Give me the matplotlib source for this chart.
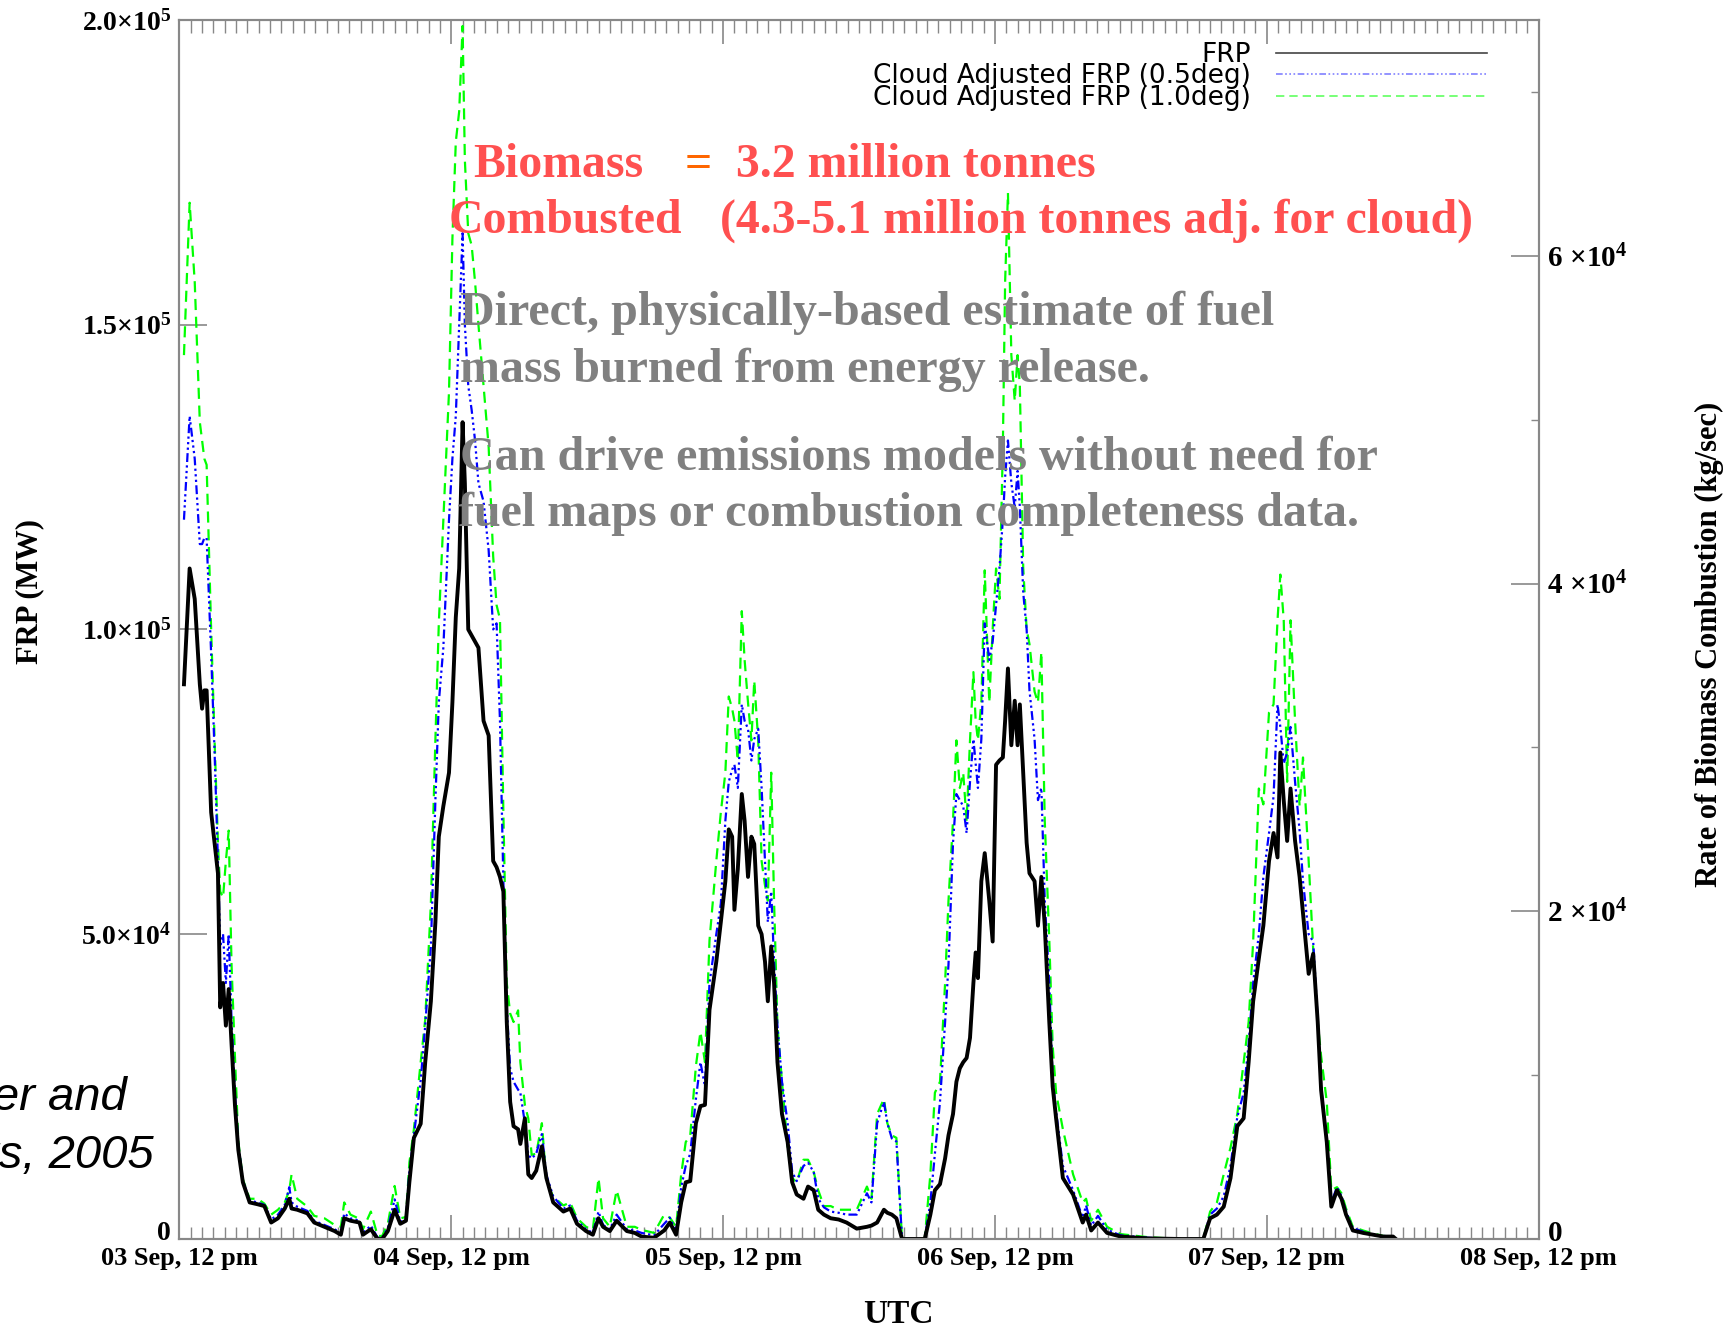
import numpy as np
import matplotlib.pyplot as plt
from matplotlib.ticker import FixedLocator, FixedFormatter, MultipleLocator
from matplotlib.transforms import ScaledTranslation

plt.rcParams['font.family'] = ['Liberation Serif', 'DejaVu Serif']
plt.rcParams['mathtext.fontset'] = 'custom'
plt.rcParams['mathtext.rm'] = 'Liberation Serif:bold'
plt.rcParams['mathtext.bf'] = 'Liberation Serif:bold'
plt.rcParams['mathtext.it'] = 'Liberation Serif:bold'

# hours after 03 Sep 12:00 UTC
hours = [0.4, 0.9, 1.35, 1.8, 2.0, 2.2, 2.4, 2.8, 3.1, 3.4, 3.6, 3.85, 4.1, 4.35, 4.6, 4.9, 5.2, 5.6, 6.2,
         6.9, 7.5, 8.1, 8.7, 9.3, 9.7, 9.9, 10.4, 11.3, 11.9, 12.8, 13.7, 14.25, 14.55, 15.1, 15.9, 16.2,
         16.9, 17.5, 17.9, 18.4, 19.0, 19.5, 20.0,
         20.3, 20.7, 21.3, 21.7, 22.2, 22.6, 22.9, 23.3, 23.8, 24.1, 24.4, 24.7, 25.0, 25.2, 25.5,
         25.8, 26.1, 26.4, 26.85, 27.3, 27.7, 28.0, 28.3, 28.6, 28.9, 29.2, 29.5, 29.9, 30.1, 30.5, 30.8,
         31.1, 31.5, 32.0, 32.4, 33.0, 33.9, 34.5, 35.1, 35.9, 36.5, 37.0, 37.4, 38.0, 38.6, 39.5,
         40.2, 40.8, 41.9, 42.8, 43.3, 43.85, 44.3, 44.7, 45.1, 45.6, 46.0, 46.4, 46.8, 47.4, 47.8, 48.2,
         48.5, 48.8, 49.0, 49.3, 49.65, 49.9, 50.2, 50.5, 50.75, 51.1, 51.4, 51.7, 51.95, 52.25, 52.5, 52.8,
         53.2, 53.7, 54.1, 54.5, 55.1, 55.5, 56.0, 56.4, 56.9, 57.5, 58.2, 58.9, 59.8, 60.7, 61.1, 61.6,
         62.2, 62.5, 62.9, 63.3, 63.8, 64.8, 65.8,
         66.3, 66.7, 67.15, 67.6, 67.9, 68.3, 68.6, 68.9, 69.2, 69.5, 69.8, 70.1, 70.3, 70.5, 70.8, 71.1,
         71.5, 71.8, 72.1, 72.4, 72.7, 72.9, 73.15, 73.45, 73.75, 74.0, 74.2, 74.5, 74.8, 75.05, 75.5, 75.8,
         76.1, 76.4, 76.8, 77.1, 77.4, 78.0, 78.9, 79.75,
         80.05, 80.5, 81.1, 81.9, 83.1, 85.5, 88.4, 90.4, 91.0, 91.6, 92.2, 92.8, 93.4, 93.96, 94.4, 94.8,
         95.3, 95.7, 96.2, 96.6, 96.95, 97.2, 97.5, 97.8, 98.1, 98.5, 98.9, 99.2, 99.7, 100.1, 100.5, 100.8,
         101.3, 101.7, 102.2, 102.6, 103.0, 103.6, 104.5, 105.4, 106.3, 107.15, 107.4]

# FRP, thousands of MW
frp = [91, 110, 105, 91, 87, 90, 90, 70, 65, 60, 38, 42, 35, 41, 32, 22, 14.6, 9.3, 6.0,
       5.7, 5.4, 2.7, 3.4, 5.0, 6.6, 5.0, 4.8, 4.2, 2.7, 2.0, 1.3, 0.7, 3.4, 3.0, 2.7, 0.7,
       1.6, 0.0, 0.0, 1.3, 4.8, 2.5, 3.0,
       9.3, 16.6, 18.9, 29, 39, 52, 66, 71, 76.5, 88, 102, 110, 134, 124, 100,
       99, 98, 97, 85, 82.6, 62, 61, 59.4, 57, 35.6, 22.5, 18.5, 18, 15.6, 19.8, 10.6,
       10, 11.2, 15.2, 10, 6, 4.5, 5, 2.5, 1.3, 0.7, 3.4, 2, 1.3, 3, 1.3,
       1.0, 0.4, 0.2, 1.4, 2.7, 0.7, 6.0, 9.3, 9.5, 19, 21.8, 22, 37.6, 45.5, 52, 58.7,
       67.2, 66, 54, 60.7, 73, 68.6, 59.4, 66, 64.8, 51.4, 50, 45.5, 39, 48, 42, 29,
       20.5, 15.9, 9.3, 7.3, 6.6, 8.6, 8.0, 4.8, 4.0, 3.4, 3.2, 2.7, 1.7, 2.0, 2.2, 2.7,
       4.8, 4.3, 4.0, 3.4, 0, 0, 0,
       4.0, 8.0, 9.0, 13.2, 17, 20.5, 25.8, 28, 29, 29.7, 33, 42, 47, 42.8, 58.7, 63.3,
       55.5, 48.8, 77.8, 78.5, 79, 85, 93.6, 81, 88.3, 81, 87.7, 76.5, 65, 60, 58.7, 51.4,
       59.4, 51.4, 35.6, 25, 19.8, 10, 7.3, 2.7,
       4.0, 1.4, 2.7, 1.0, 0.4, 0.1, 0, 0, 3.4, 4.0, 5.3, 10, 18.5, 19.8, 29, 39,
       46, 51.4, 62, 66.6, 62.6, 79.8, 71.9, 65.3, 73.9, 65.3, 59.4, 53.4, 43.5, 46.8, 35.6, 24.4,
       15.9, 5.3, 8.0, 6.6, 4.0, 1.4, 1.0, 0.7, 0.4, 0.4, 0]

# Cloud adjusted FRP (0.5deg)
frp_05 = [118, 135, 128, 114, 114, 115, 115, 96, 80, 62, 48, 50, 42, 50, 36, 24, 15.5, 9.6, 6.3,
          6.0, 5.6, 3.2, 4.0, 5.6, 8.5, 6.0, 5.3, 4.6, 3.0, 2.3, 1.6, 1.0, 4.2, 3.4, 3.0, 1.0,
          2.2, 0.2, 0.2, 1.8, 6.5, 2.8, 3.2,
          11, 17, 26, 35, 48, 72, 88, 97, 118, 128, 135, 150, 165, 150, 140,
          136, 131, 124, 121, 113, 100, 101, 85, 58.7, 38, 28, 25.8, 24.5, 24, 19, 13.8,
          13.2, 14, 17.2, 10.5, 7, 5, 5.5, 3, 1.6, 1, 4.5, 2.3, 1.6, 4, 1.6,
          1.4, 1.0, 0.6, 2.5, 3.5, 1.2, 8.5, 12, 14, 23, 29, 25, 42, 50, 55, 68.6,
          75, 77, 77.8, 74, 87.7, 85, 83.7, 78.5, 82, 83.7, 74, 62, 52, 57, 45.5, 35,
          25.8, 19, 11, 9.5, 12, 12.5, 11, 6.6, 5.2, 4.5, 4.3, 4.0, 4.0, 7.5, 6.0, 19,
          22.5, 19, 16.5, 16, 0, 0, 0,
          6.0, 14, 22.5, 35.6, 45, 65, 73, 72, 71, 66.6, 75, 82, 78, 74, 82, 101,
          95, 98, 104, 110, 118, 125, 131, 124, 120, 126, 120, 106, 100, 90, 82, 72,
          74, 55.5, 42, 26, 21, 12, 8, 3.5,
          5.5, 2.2, 3.8, 1.5, 0.6, 0.2, 0, 0, 4.0, 5.0, 7.0, 12, 20, 24, 32, 42,
          50, 59.4, 66.6, 72.6, 87.7, 84, 78, 79.8, 84, 75, 67, 58.7, 50, 48.8, 36, 25,
          16, 6, 8.5, 7, 4.5, 1.8, 1.2, 0.8, 0.5, 0.4, 0]

# Cloud adjusted FRP (1.0deg)
frp_10 = [145, 170, 157, 134, 131, 128, 127, 100, 82, 65, 57, 56, 62, 67, 45, 30, 16, 9.8, 6.6,
          6.6, 5.8, 4.0, 4.8, 6.0, 8.0, 10.6, 6.6, 5.3, 3.8, 3.4, 2.3, 2.0, 6.0, 4.0, 3.3, 1.6,
          4.5, 0.5, 0.5, 2.5, 8.7, 3.4, 3.6,
          12.5, 18, 29, 36, 55, 82, 101, 118, 139, 164, 180, 185, 199, 177, 165,
          163, 157, 150, 140, 130, 112, 104, 101.7, 70, 42, 37, 35.6, 37.5, 29, 22, 19.8,
          13.8, 14, 19, 9.3, 7, 5.5, 6, 3.4, 2, 1.5, 10, 3.4, 2, 8, 2,
          2.0, 1.5, 1.0, 4.0, 3.5, 2.0, 10.6, 15.9, 17, 28.4, 34, 29, 49, 62, 70, 76.5,
          89, 87, 85, 78.5, 103, 95, 88, 81.8, 91.6, 81.8, 62, 58, 55.5, 76.5, 55.5, 35,
          25.8, 15, 10, 9.3, 13, 13, 11, 8, 5.4, 5.4, 4.8, 4.8, 4.8, 8.6, 6.6, 20.5,
          23, 19, 17, 16.6, 0, 0, 0,
          10.6, 24, 25.8, 42, 55.5, 68.6, 81.8, 74, 76.5, 68.6, 81.8, 93, 85, 81.8, 88, 109.7,
          88, 100, 110, 105, 130, 157, 171.6, 145, 137.5, 145, 140, 110, 100, 97.6, 89.8, 88,
          96.3, 68.6, 49, 31.6, 24, 18, 10.6, 6,
          6.6, 3.0, 4.8, 2.0, 0.8, 0.3, 0, 0, 4.5, 6.0, 10.6, 15, 20.5, 29, 35.6, 48.8,
          73.9, 71.3, 86.4, 87.7, 101.5, 109, 101.5, 75, 101.5, 85, 71, 79, 62, 47.5, 35.6, 30,
          22.5, 8, 8.5, 7.5, 5, 2, 1.4, 0.9, 0.5, 0.4, 0]

day_ticks = [0, 24, 48, 72, 96, 120]
day_labels = ['03 Sep, 12 pm', '04 Sep, 12 pm', '05 Sep, 12 pm',
              '06 Sep, 12 pm', '07 Sep, 12 pm', '08 Sep, 12 pm']
frp_ticks = [0, 5e4, 1e5, 1.5e5, 2e5]
frp_labels = [r'$\mathbf{0}$', r'$\mathbf{5.0{\times}10^{4}}$', r'$\mathbf{1.0{\times}10^{5}}$',
              r'$\mathbf{1.5{\times}10^{5}}$', r'$\mathbf{2.0{\times}10^{5}}$']
rate_ticks = [0, 2e4, 4e4, 6e4]
rate_labels = [r'$\mathbf{0}$', r'$\mathbf{2\ {\times}10^{4}}$', r'$\mathbf{4\ {\times}10^{4}}$',
               r'$\mathbf{6\ {\times}10^{4}}$']
conv = 0.372  # kg per MJ

grey = '#888888'
t = np.array(hours)

fig = plt.figure(figsize=(17.27, 13.24), dpi=100)
ax = fig.add_axes([0.1039, 0.0642, 0.7870, 0.9208])

ax.plot(t, np.array(frp_10) * 1e3, color='#00ff00', lw=1.6, ls=(0, (5, 3)),
        label='Cloud Adjusted FRP (1.0deg)', zorder=2)
ax.plot(t, np.array(frp_05) * 1e3, color='#0000ff', lw=1.6,
        ls=(0, (4, 1.5, 1, 1.5, 1, 1.5, 1, 1.5)), label='Cloud Adjusted FRP (0.5deg)', zorder=3)
ax.plot(t, np.array(frp) * 1e3, color='black', lw=2.8, label='FRP', zorder=4)

ax.set_xlim(0, 120)
ax.set_ylim(0, 2e5)
ax.xaxis.set_major_locator(FixedLocator(day_ticks))
ax.xaxis.set_major_formatter(FixedFormatter(day_labels))
ax.xaxis.set_minor_locator(MultipleLocator(1))
ax.yaxis.set_major_locator(FixedLocator(frp_ticks))
ax.yaxis.set_major_formatter(FixedFormatter(frp_labels))
ax.tick_params(axis='x', which='both', direction='in', top=True, bottom=True,
               color=grey, labelsize=19, pad=6)
ax.tick_params(axis='x', which='major', length=17.5, width=1.2)
ax.tick_params(axis='x', which='minor', length=9, width=1.0)
ax.tick_params(axis='y', which='major', direction='in', left=True, right=False,
               length=20, width=1.2, color=grey, labelsize=20, pad=6)
for lab in ax.get_xticklabels():
    lab.set_fontweight('bold')

ax2 = ax.twinx()
ax2.set_ylim(0, 2e5 * conv)
ax2.yaxis.set_major_locator(FixedLocator(rate_ticks))
ax2.yaxis.set_major_formatter(FixedFormatter(rate_labels))
ax2.yaxis.set_minor_locator(MultipleLocator(1e4))
ax2.tick_params(axis='y', which='major', direction='in', length=20, width=1.2,
                color=grey, labelsize=21, pad=6)
ax2.tick_params(axis='y', which='minor', direction='in', length=6, width=1.0, color=grey)
for a in (ax, ax2):
    for s in a.spines.values():
        s.set_color(grey)
        s.set_linewidth(1.5)

# the zero labels sit a little above the axis line
lift = ScaledTranslation(0, 6 / 72, fig.dpi_scale_trans)
for a in (ax, ax2):
    zero_lab = a.yaxis.get_major_ticks()[0]
    zero_lab.label1.set_transform(zero_lab.label1.get_transform() + lift)
    zero_lab.label2.set_transform(zero_lab.label2.get_transform() + lift)

leg = ax.legend(handles=ax.get_lines()[::-1], loc='upper right', bbox_to_anchor=(0.962, 0.982),
                frameon=False, markerfirst=False, labelspacing=-0.17,
                handlelength=8.0, handletextpad=0.95, borderpad=0, borderaxespad=0,
                prop={'family': 'DejaVu Sans', 'size': 19})
for line in leg.get_lines():
    line.set_linewidth(1.2)
leg.get_lines()[0].set_color('#444444')
leg.get_lines()[1].set_color('#8080ff')
leg.get_lines()[2].set_color('#60ff60')

W, H = 1727, 1324
def fx(px):
    return px / W
def fy(py):
    return 1 - py / H

red = '#ff5050'
fs_big = 34.4
fig.text(fx(473), fy(177), 'Biomass', color=red, fontsize=fs_big, fontweight='bold')
fig.text(fx(685), fy(177), '=', color='#ff6600', fontsize=fs_big, fontweight='bold')
fig.text(fx(736), fy(177), '3.2 million tonnes', color=red, fontsize=fs_big, fontweight='bold')
fig.text(fx(449), fy(233), 'Combusted', color=red, fontsize=fs_big, fontweight='bold')
fig.text(fx(720), fy(233), '(4.3-5.1 million tonnes adj. for cloud)', color=red,
         fontsize=fs_big, fontweight='bold')

gray_txt = '#808080'
fs_gray = 34.6
fig.text(fx(460), fy(325), 'Direct, physically-based estimate of fuel', color=gray_txt,
         fontsize=fs_gray, fontweight='bold')
fig.text(fx(460), fy(382), 'mass burned from energy release.', color=gray_txt,
         fontsize=fs_gray, fontweight='bold')
fig.text(fx(460), fy(470), 'Can drive emissions models without need for', color=gray_txt,
         fontsize=fs_gray, fontweight='bold')
fig.text(fx(458), fy(526), 'fuel maps or combustion completeness data.', color=gray_txt,
         fontsize=fs_gray, fontweight='bold')

fig.text(fx(127), fy(1110), 'Wooster and', ha='right', fontsize=34, style='italic',
         family=['Liberation Sans', 'DejaVu Sans'])
fig.text(fx(154), fy(1168), 'Roberts, 2005', ha='right', fontsize=34, style='italic',
         family=['Liberation Sans', 'DejaVu Sans'])

fig.text(fx(30), fy(591), 'FRP (MW)', rotation=90, ha='center', va='center',
         fontsize=22, fontweight='bold')
fig.text(fx(1709), fy(644), 'Rate of Biomass Combustion (kg/sec)', rotation=90,
         ha='center', va='center', fontsize=22, fontweight='bold')
fig.text(fx(898), fy(1299), 'UTC', ha='center', va='top', fontsize=24, fontweight='bold')

fig.savefig('out.png', dpi=100)
